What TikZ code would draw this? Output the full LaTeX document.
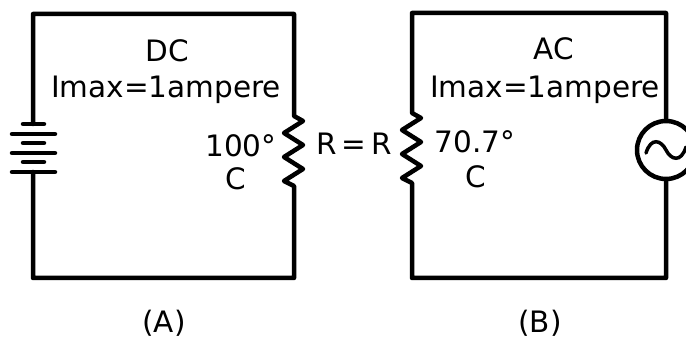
\documentclass[tikz,border=0pt]{standalone}
\usepackage{fontspec}
\setmainfont{DejaVu Sans}
\begin{document}
\begin{tikzpicture}[x=1pt,y=-1pt,
  wire/.style={line width=4.5pt, line cap=round, line join=round},
  plate/.style={line width=4.5pt, line cap=round},
  lbl/.style={font=\fontsize{29.5}{32}\selectfont, inner sep=0pt, anchor=base},
  srcbox/.style={circle, draw, line width=4.5pt, minimum size=58pt, inner sep=0pt}]
\useasboundingbox (0,0) rectangle (686,339);
% circuit A
\coordinate (A1) at (33,14);
\coordinate (A2) at (294,14);
\coordinate (A3) at (294,278);
\coordinate (A4) at (33,278);
\coordinate (bt) at (33,124);
\coordinate (bb) at (33,172);
\coordinate (rAt) at (294,116);
\coordinate (rAb) at (294,186);
\draw[wire] (bt) -- (A1) -- (A2) -- (rAt)
  -- ++(9,5) -- ++(-19,12) -- ++(19,12) -- ++(-19,12) -- ++(19,12) -- ++(-19,12) -- (rAb)
  -- (A3) -- (A4) -- (bb);
% battery plates
\draw[plate] (23,124) -- (44,124);
\draw[plate] (12,134) -- (55,134);
\draw[plate] (23,143) -- (44,143);
\draw[plate] (12,153) -- (55,153);
\draw[plate] (23,162) -- (44,162);
\draw[plate] (12,172) -- (55,172);
% circuit B
\coordinate (B1) at (412,13);
\coordinate (B2) at (666,13);
\coordinate (B3) at (666,278);
\coordinate (B4) at (412,278);
\coordinate (rBt) at (412,113);
\coordinate (rBb) at (412,183);
\node[srcbox] (src) at (666,150) {};
\draw[wire] (src.north) -- (B2) -- (B1) -- (rBt)
  -- ++(9,5) -- ++(-19,12) -- ++(19,12) -- ++(-19,12) -- ++(19,12) -- ++(-19,12) -- (rBb)
  -- (B4) -- (B3) -- (src.south);
\draw[line width=3.5pt, line cap=round]
  ([shift={(-20,3)}]src.center) .. controls ([shift={(-15,-13)}]src.center) and ([shift={(-5,-10)}]src.center) .. (src.center)
  .. controls ([shift={(5,10)}]src.center) and ([shift={(15,13)}]src.center) .. ([shift={(20,-3)}]src.center);
% labels
\node[lbl] (dc) at (167,62) {DC};
\node[lbl] (imA) at (166,98) {Imax=1ampere};
\node[lbl] (tA) at (241,157) {100°};
\node[lbl] (cA) at (236,190) {C};
\node[lbl] (rr) at (354,155) {R\,=\,R};
\node[lbl] (ac) at (554,60) {AC};
\node[lbl] (imB) at (545,98) {Imax=1ampere};
\node[lbl] (tB) at (475,153) {70.7°};
\node[lbl] (cB) at (476,188) {C};
\node[lbl] (capA) at (164,333) {(A)};
\node[lbl] (capB) at (540,333) {(B)};
\end{tikzpicture}
\end{document}
